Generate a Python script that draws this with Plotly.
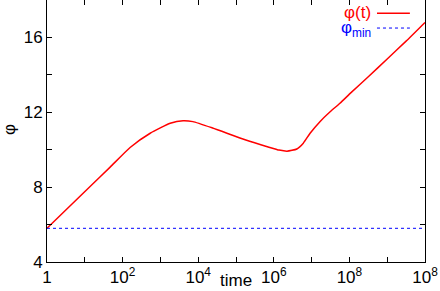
import plotly.graph_objects as go

# data
time = [1, 13.8, 46.8, 158, 537, 1.82e3, 3.98e3, 7.24e3, 2.4e4, 1.82e5, 7.1e5,
        1.38e6, 2.24e6, 4.07e6, 6.03e6, 9.12e6, 1.66e7, 3.09e7, 5.62e7, 1.05e8,
        3.16e8, 1e9, 3.16e9, 1e10]
phi = [5.8, 8.03, 9.07, 10.12, 10.88, 11.41, 11.55, 11.5, 11.16, 10.52, 10.15,
       9.98, 9.92, 10.04, 10.35, 10.88, 11.5, 12.03, 12.48, 13.01,
       13.9, 14.85, 15.8, 16.8]
phi_min = 5.8

x_tickvals = [10 ** k for k in range(0, 11)]
x_ticktext = ["1", " ", "10<sup>2</sup>", " ", "10<sup>4</sup>", " ", "10<sup>6</sup>", " ",
              "10<sup>8</sup>", " ", "10<sup>8</sup>"]
y_tickvals = [4, 6, 8, 10, 12, 14, 16, 18]
y_ticktext = ["4", " ", "8", " ", "12", " ", "16", " "]

FONT = "Liberation Sans, Arial, sans-serif"

fig = go.Figure()
fig.add_trace(go.Scatter(x=time, y=phi, mode="lines",
                         line=dict(color="#ff0000", width=1.5, shape="spline", smoothing=0.5),
                         showlegend=False))
fig.add_trace(go.Scatter(x=[time[0], time[-1]], y=[phi_min, phi_min], mode="lines",
                         line=dict(color="#0000ff", width=1, dash="dot"),
                         showlegend=False))

axis_common = dict(showline=True, linecolor="black", linewidth=1, mirror="allticks",
                   ticks="inside", ticklen=5, tickcolor="black", showgrid=False,
                   zeroline=False, tickfont=dict(family=FONT, size=17, color="black"))

fig.update_xaxes(type="log", range=[0, 10], tickmode="array", tickvals=x_tickvals,
                 ticktext=x_ticktext, **axis_common)
fig.update_yaxes(range=[4, 18], tickmode="array", tickvals=y_tickvals,
                 ticktext=y_ticktext, **axis_common)

fig.update_layout(
    width=440, height=291,
    margin=dict(l=47, r=15, t=0, b=29, autoexpand=False),
    paper_bgcolor="white", plot_bgcolor="white",
    font=dict(family=FONT, size=17, color="black"),
    annotations=[
        dict(text="time", xref="paper", yref="paper", x=0.5, y=0, yshift=-18,
             showarrow=False, xanchor="center", yanchor="middle",
             font=dict(family=FONT, size=17, color="black")),
        dict(text="φ", xref="paper", yref="paper", x=0, xshift=-37, y=0.504,
             showarrow=False, textangle=-90, xanchor="center", yanchor="middle",
             font=dict(family=FONT, size=17, color="black")),
        dict(text="φ(t)", xref="paper", yref="paper", x=0.862, y=0.953,
             showarrow=False, xanchor="right", yanchor="middle",
             font=dict(family=FONT, size=17, color="#ff0000")),
        dict(text="φ<sub>min</sub>", xref="paper", yref="paper", x=0.862, y=0.89,
             showarrow=False, xanchor="right", yanchor="middle",
             font=dict(family=FONT, size=17, color="#0000ff")),
    ],
    shapes=[
        dict(type="line", xref="paper", yref="paper", x0=0.873, x1=0.96, y0=0.949, y1=0.949,
             line=dict(color="#ff0000", width=1.5)),
        dict(type="line", xref="paper", yref="paper", x0=0.873, x1=0.96, y0=0.893, y1=0.893,
             line=dict(color="#0000ff", width=1, dash="dot")),
    ],
)

fig.write_html("out.html", config={"displayModeBar": False},
               post_script="document.body.style.margin='0';")
